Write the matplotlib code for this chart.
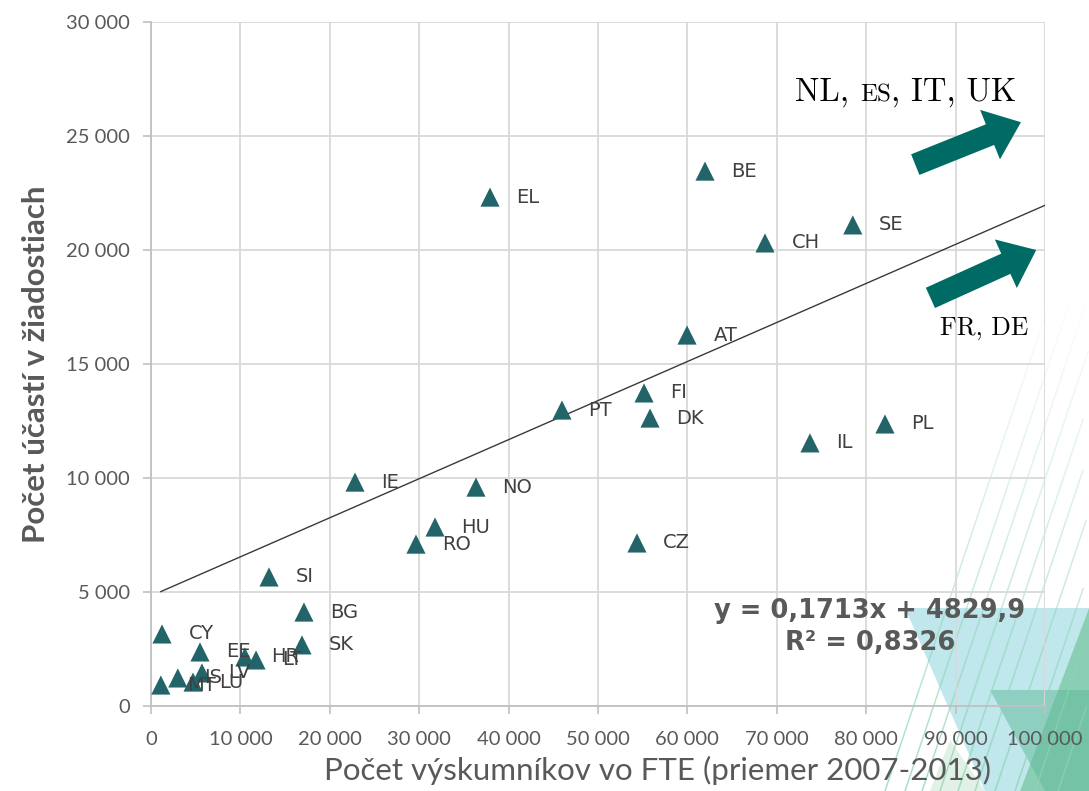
import numpy as np
import matplotlib
matplotlib.use("Agg")
import matplotlib.pyplot as plt
from matplotlib.patches import Polygon
from matplotlib.collections import LineCollection

# data
countries = ["EL", "BE", "SE", "CH", "AT", "FI", "DK", "PT", "IL", "PL",
             "IE", "NO", "HU", "RO", "CZ", "SI", "BG", "SK", "CY", "EE",
             "HR", "LT", "LV", "MT", "IS", "LU"]
researchers = [37920, 61970, 78500, 68680, 59960, 55150, 55820, 45970, 73710, 82100,
               22820, 36350, 31770, 29640, 54360, 13200, 17110, 16890, 1230, 5480,
               10500, 11750, 5700, 1100, 3000, 4700]
participations = [22320, 23460, 21100, 20310, 16270, 13730, 12630, 12980, 11540, 12370,
                  9820, 9600, 7850, 7100, 7150, 5660, 4120, 2680, 3160, 2370,
                  2150, 2020, 1450, 920, 1230, 1050]

slope = 0.1713
intercept = 4829.9
r2 = 0.8326

xticks = np.arange(0, 100001, 10000)
yticks = np.arange(0, 30001, 5000)


def fmt(v):
    return "{:,}".format(int(v)).replace(",", " ")


W, H = 1089, 791
fig = plt.figure(figsize=(W / 100, H / 100), dpi=100)

# slide background decoration (bottom right)
def px(pts):
    return [(x / W, 1 - y / H) for x, y in pts]

def deco(pts, color, alpha):
    fig.add_artist(Polygon(px(pts), closed=True, transform=fig.transFigure,
                           fc=color, ec="none", alpha=alpha, zorder=0))

deco([(905, 608), (1089, 608), (1020, 791), (985, 791)], "#a6dde5", 0.7)
deco([(1089, 608), (1089, 791), (1020, 791)], "#63bf9c", 0.75)
deco([(990, 690), (1089, 690), (1089, 791), (1045, 791)], "#5fb99a", 0.5)
deco([(950, 740), (985, 791), (930, 791)], "#cfe9d6", 0.6)

# thin diagonal stripes fading out towards the top
segs, cols = [], []
for x0 in [885, 905, 922, 940, 958, 975, 995, 1015, 1035, 1058]:
    ys = np.linspace(791, 300, 30)
    xs = x0 + (791 - ys) / 2.97
    for i in range(len(ys) - 1):
        if xs[i + 1] > W:
            break
        segs.append(px([(xs[i], ys[i]), (xs[i + 1], ys[i + 1])]))
        a = 0.75 * (ys[i] - 300) / 491
        cols.append((0.55, 0.83, 0.70, a))
fig.add_artist(LineCollection(segs, colors=cols, linewidths=1.1,
                              transform=fig.transFigure, zorder=0))

ax = fig.add_axes([151 / W, 1 - 706 / H, (1045 - 151) / W, (706 - 22) / H])
ax.patch.set_alpha(0)

ax.set_xlim(0, 100000)
ax.set_ylim(0, 30000)
ax.set_xticks(xticks)
ax.set_yticks(yticks)
ax.set_xticklabels([fmt(v) for v in xticks])
ax.set_yticklabels([fmt(v) for v in yticks])
ax.grid(True, color="#d9d9d9", lw=1.3)
ax.set_axisbelow(True)
for s in ["top", "right"]:
    ax.spines[s].set_visible(False)
for s in ["left", "bottom"]:
    ax.spines[s].set_color("#c0c0c0")
    ax.spines[s].set_linewidth(1.3)
ax.tick_params(colors="#c0c0c0", length=6, width=1.2, labelcolor="#595959",
               labelsize=14.5)
ax.tick_params(axis="x", pad=12)
ax.tick_params(axis="y", pad=9)
for lab in ax.get_xticklabels() + ax.get_yticklabels():
    lab.set_family("Lato")

ax.scatter(researchers, participations, marker="^", s=190, color="#226468",
           edgecolors="none", zorder=3)
for c, x, y in zip(countries, researchers, participations):
    ax.annotate(c, (x, y), xytext=(19, 0), textcoords="offset points",
                ha="left", va="center", fontsize=14, color="#404040",
                family="DejaVu Sans", zorder=4)

# linear trend line
tx = np.array([min(researchers), 100000])
ax.plot(tx, slope * tx + intercept, color="#3a3a3a", lw=1, zorder=2)

ax.text(0.804, 0.139, "y = {}x + {}".format(str(slope).replace(".", ","),
                                            str(intercept).replace(".", ",")),
        transform=ax.transAxes, ha="center", va="center", fontsize=18.5,
        fontweight="bold", color="#595959", family="DejaVu Sans")
ax.text(0.804, 0.092, "R² = {}".format(str(r2).replace(".", ",")),
        transform=ax.transAxes, ha="center", va="center", fontsize=18.5,
        fontweight="bold", color="#595959", family="DejaVu Sans")

ax.set_xlabel("Počet výskumníkov vo FTE (priemer 2007-2013)", fontsize=22.5,
              color="#595959", family="Lato", labelpad=6)
ax.xaxis.label.set_x(0.566)
ax.set_ylabel("Počet účastí v žiadostiach", fontsize=22.5, fontweight="bold",
              color="#595959", family="Lato", labelpad=12)

# arrows and annotations for the large countries
arrow = dict(arrowstyle="simple,head_length=1.5,head_width=2.4,tail_width=1.0",
             fc="#006a65", ec="none", mutation_scale=16)
ax.annotate("", xy=(97600, 25650), xytext=(85200, 23700), arrowprops=arrow,
            annotation_clip=False)
ax.annotate("", xy=(99300, 20050), xytext=(86900, 17850), arrowprops=arrow,
            annotation_clip=False)

# "NL, ES, IT, UK" with ES in small caps
fig.canvas.draw()
rend = fig.canvas.get_renderer()
parts = [("NL, ", 23.5), ("ES", 18), (", IT, UK", 23.5)]
cur = 795
for txt, fs in parts:
    t = fig.text(cur / W, 1 - 101 / H, txt, fontsize=fs, family="cmr10",
                 ha="left", va="baseline", color="black")
    cur += t.get_window_extent(rend).width
ax.text(0.932, 0.552, "FR, DE", transform=ax.transAxes, fontsize=18.5,
        family="cmr10", ha="center", va="center", color="black")

fig.savefig("out.png", dpi=100)
